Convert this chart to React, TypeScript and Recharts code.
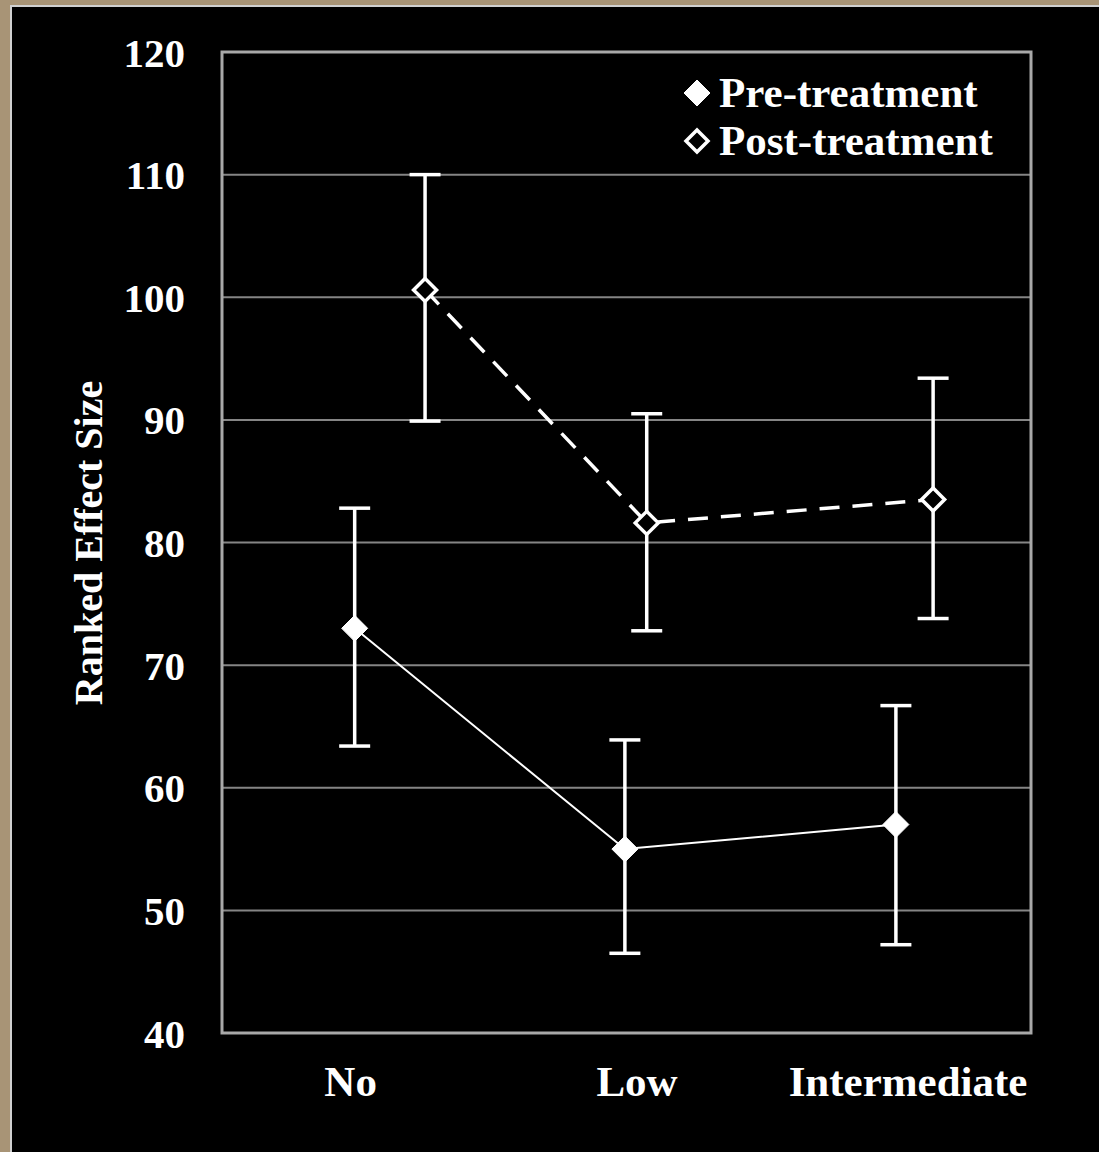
import React from 'react';
import { LineChart, Line, XAxis, YAxis, CartesianGrid, ErrorBar, ReferenceArea, Legend } from 'recharts';

const categories = ['No', 'Low', 'Intermediate'];
const categoryPositions = [15.9, 51.3, 84.8];
const prePositions = [16.4, 49.8, 83.3];
const postPositions = [25.1, 52.5, 87.9];
const preMeans = [73.0, 55.0, 57.0];
const preLower = [63.4, 46.5, 47.2];
const preUpper = [82.8, 63.9, 66.7];
const postMeans = [100.6, 81.6, 83.5];
const postLower = [89.9, 72.8, 73.8];
const postUpper = [110.0, 90.5, 93.4];
const yTicks = [40, 50, 60, 70, 80, 90, 100, 110, 120];
const seriesNames = ['Pre-treatment', 'Post-treatment'];

const preData = categories.map((c, i) => ({
  category: c,
  x: prePositions[i],
  y: preMeans[i],
  err: [preMeans[i] - preLower[i], preUpper[i] - preMeans[i]],
}));
const postData = categories.map((c, i) => ({
  category: c,
  x: postPositions[i],
  y: postMeans[i],
  err: [postMeans[i] - postLower[i], postUpper[i] - postMeans[i]],
}));

const FONT = "'Liberation Serif', 'Times New Roman', serif";

const diamondPath = (cx: number, cy: number, r: number) =>
  `M ${cx} ${cy - r} L ${cx + r} ${cy} L ${cx} ${cy + r} L ${cx - r} ${cy} Z`;

const PreDot = (p: any) => (
  <path key={`pre-${p.index}`} d={diamondPath(p.cx, p.cy, 13)} fill="#fff" stroke="#fff" strokeWidth={1} />
);
const PostDot = (p: any) => (
  <path key={`post-${p.index}`} d={diamondPath(p.cx, p.cy, 11.5)} fill="#000" stroke="#fff" strokeWidth={3.5} />
);

const renderLegend = (props: any) => {
  const payload = [...(props.payload || [])].sort(
    (a: any, b: any) => seriesNames.indexOf(a.value) - seriesNames.indexOf(b.value)
  );
  return (
    <div style={{ display: 'flex', flexDirection: 'column' }}>
      {payload.map((entry: any, i: number) => {
        const filled = entry.value === seriesNames[0];
        return (
          <div key={i} style={{ display: 'flex', alignItems: 'center', height: 48 }}>
            <svg width={34} height={34}>
              {filled ? (
                <path d={diamondPath(17, 17, 13)} fill="#fff" stroke="#fff" strokeWidth={1} />
              ) : (
                <path d={diamondPath(17, 17, 11)} fill="#000" stroke="#fff" strokeWidth={3.5} />
              )}
            </svg>
            <span
              style={{
                marginLeft: 5,
                color: '#fff',
                fontFamily: FONT,
                fontWeight: 'bold',
                fontSize: 43,
                lineHeight: '48px',
                whiteSpace: 'nowrap',
              }}
            >
              {entry.value}
            </span>
          </div>
        );
      })}
    </div>
  );
};

const YLabel = () => (
  <text
    x={88}
    y={543}
    transform="rotate(-90 88 543)"
    textAnchor="middle"
    dominantBaseline="central"
    fill="#fff"
    fontFamily={FONT}
    fontWeight="bold"
    fontSize={40}
  >
    Ranked Effect Size
  </text>
);

export default function App() {
  return (
    <div style={{ position: 'absolute', left: 0, top: 0, width: 1099, height: 1152, background: '#a89476' }}>
      <div
        style={{
          position: 'absolute',
          left: 10,
          top: 5,
          right: 0,
          bottom: 0,
          background: '#000',
          borderLeft: '2px solid #d0d0d0',
          borderTop: '2px solid #d0d0d0',
        }}
      />
      <div style={{ position: 'absolute', left: 0, top: 0 }}>
        <LineChart width={1099} height={1152} margin={{ top: 52, right: 68, bottom: 0, left: 0 }}>
          <CartesianGrid horizontal vertical={false} stroke="#858585" strokeWidth={2} />
          <XAxis
            dataKey="x"
            type="number"
            domain={[0, 100]}
            ticks={categoryPositions}
            tickFormatter={(v: number) => categories[categoryPositions.indexOf(v)] ?? ''}
            height={119}
            axisLine={false}
            tickLine={false}
            tickSize={0}
            tickMargin={32}
            interval={0}
            tick={{ fill: '#fff', fontFamily: FONT, fontWeight: 'bold', fontSize: 43 }}
            allowDuplicatedCategory={false}
          />
          <YAxis
            type="number"
            domain={[40, 120]}
            ticks={yTicks}
            width={222}
            axisLine={false}
            tickLine={false}
            tickSize={0}
            tickMargin={37}
            interval={0}
            tick={{ fill: '#fff', fontFamily: FONT, fontWeight: 'bold', fontSize: 41 }}
            label={{ content: () => <YLabel /> }}
          />
          <ReferenceArea x1={0} x2={100} y1={40} y2={120} fill="none" stroke="#a8a8a8" strokeWidth={3} ifOverflow="extendDomain" />
          <Legend
            layout="horizontal"
            verticalAlign="middle"
            align="center"
            content={renderLegend}
            itemSorter={null as any}
            wrapperStyle={{ left: 680, top: 69, width: 'auto' }}
          />
          <Line
            data={preData}
            dataKey="y"
            name={seriesNames[0]}
            stroke="#fff"
            strokeWidth={2}
            dot={PreDot}
            activeDot={false}
            isAnimationActive={false}
          >
            <ErrorBar dataKey="err" width={15.5} strokeWidth={3.5} stroke="#fff" direction="y" />
          </Line>
          <Line
            data={postData}
            dataKey="y"
            name={seriesNames[1]}
            stroke="#fff"
            strokeWidth={3.5}
            strokeDasharray="20 13"
            dot={PostDot}
            activeDot={false}
            isAnimationActive={false}
          >
            <ErrorBar dataKey="err" width={15.5} strokeWidth={3.5} stroke="#fff" direction="y" />
          </Line>
        </LineChart>
      </div>
    </div>
  );
}
